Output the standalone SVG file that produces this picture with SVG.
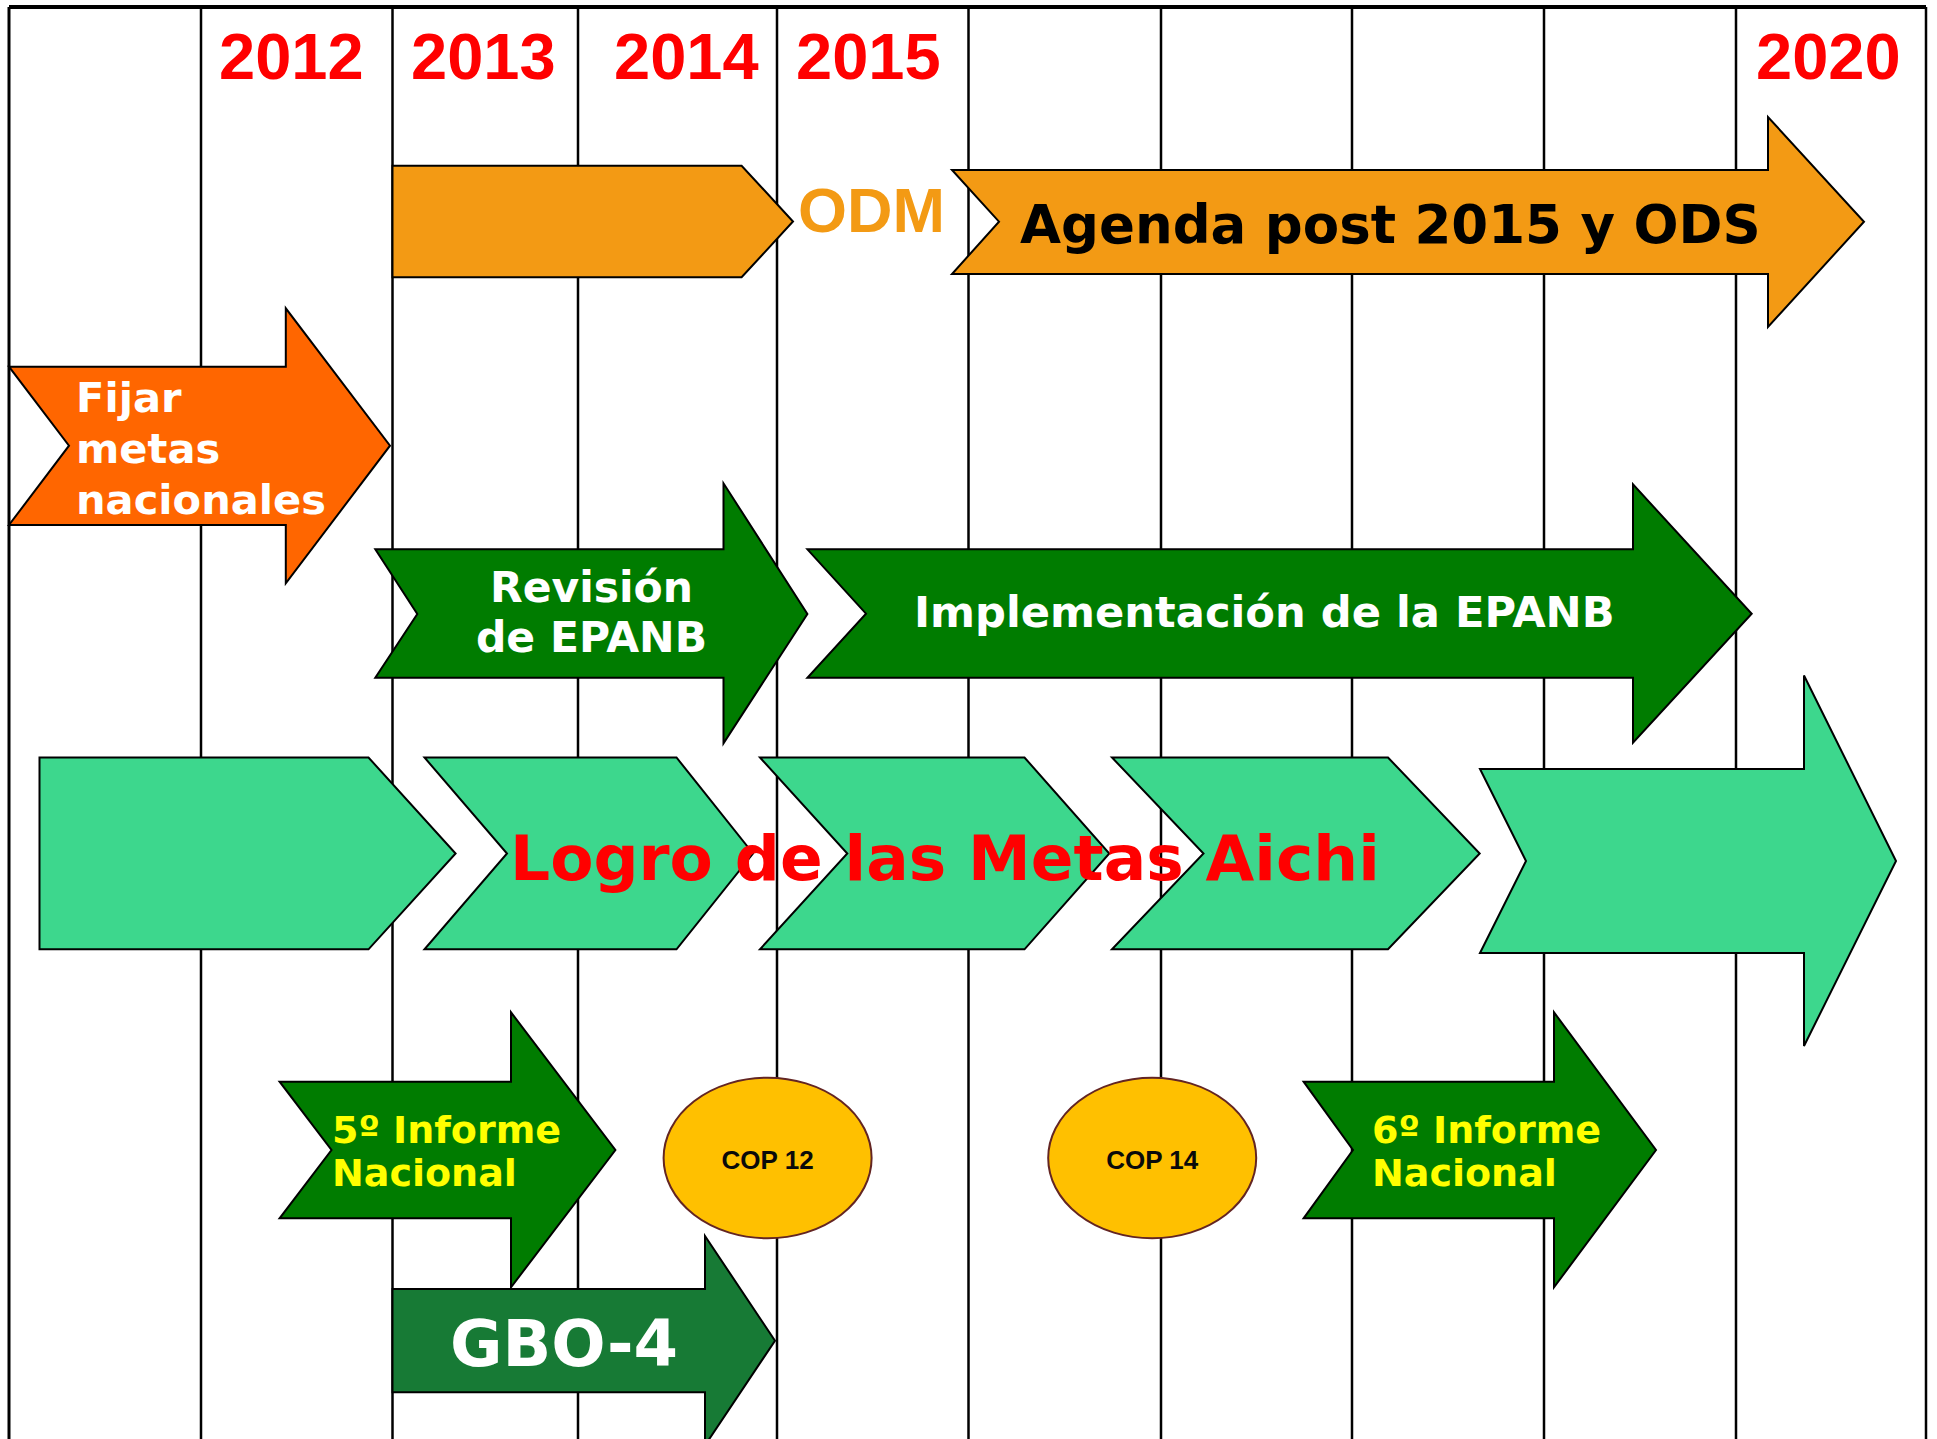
<svg xmlns="http://www.w3.org/2000/svg" width="1937" height="1439" viewBox="0 0 1937 1439">
<style>
.grid{stroke:#000;stroke-width:2.5;fill:none}
.shape{stroke:#000;stroke-width:2;stroke-linejoin:miter}
.year{font-family:"Liberation Sans",Arial,sans-serif;font-weight:bold;font-size:65px;fill:#FF0000}
.vb{font-family:"DejaVu Sans",Verdana,sans-serif;font-weight:bold}
.white{fill:#FFFFFF}
.yellow{fill:#FFFF00}
.cop{font-family:"Liberation Sans",Arial,sans-serif;font-weight:bold;font-size:26px;fill:#0a0a0a;text-anchor:middle}
</style>
<rect x="0" y="0" width="1937" height="1439" fill="#FFFFFF"/>
<g id="grid">
<line class="grid" x1="9" y1="7" x2="1926" y2="7" style="stroke-width:4"/>
<line class="grid" x1="9" y1="7" x2="9" y2="1439" style="stroke-width:3"/>
<line class="grid" x1="201" y1="7" x2="201" y2="1439"/>
<line class="grid" x1="392.5" y1="7" x2="392.5" y2="1439"/>
<line class="grid" x1="578" y1="7" x2="578" y2="1439"/>
<line class="grid" x1="777" y1="7" x2="777" y2="1439"/>
<line class="grid" x1="968.5" y1="7" x2="968.5" y2="1439"/>
<line class="grid" x1="1161" y1="7" x2="1161" y2="1439"/>
<line class="grid" x1="1352" y1="7" x2="1352" y2="1439"/>
<line class="grid" x1="1544" y1="7" x2="1544" y2="1439"/>
<line class="grid" x1="1736" y1="7" x2="1736" y2="1439"/>
<line class="grid" x1="1926" y1="7" x2="1926" y2="1439"/>
</g>
<g id="years">
<text class="year" x="219" y="79">2012</text>
<text class="year" x="411" y="79">2013</text>
<text class="year" x="614" y="79">2014</text>
<text class="year" x="796" y="79">2015</text>
<text class="year" x="1756" y="79">2020</text>
</g>
<g id="odm">
<polygon class="shape" fill="#F39A14" points="392.5,165.7 741.6,165.7 793,221.5 741.6,277.3 392.5,277.3"/>
<text x="798" y="232" style="font-family:'Liberation Sans',Arial,sans-serif;font-weight:bold;font-size:63px;fill:#F39A14">ODM</text>
</g>
<g id="agenda">
<polygon class="shape" fill="#F39A14" points="952,170 1768,170 1768,117 1864,221.7 1768,327 1768,274 952,274 999,221.7"/>
<text class="vb" x="1020" y="242.7" style="font-size:53px;fill:#000000">Agenda post 2015 y ODS</text>
</g>
<g id="fijar">
<polygon class="shape" fill="#FF6600" points="9,366.7 285.8,366.7 285.8,308.3 390,445.7 285.8,583.3 285.8,525 9,525 69,445.7"/>
<text class="vb white" style="font-size:41.6px"><tspan x="76" y="412">Fijar</tspan><tspan x="76" y="463">metas</tspan><tspan x="76" y="513.5">nacionales</tspan></text>
</g>
<g id="revision">
<polygon class="shape" fill="#007C00" points="375.3,549.3 723.5,549.3 723.5,483.3 807.4,614 723.5,743.3 723.5,677.7 375.3,677.7 417.3,614"/>
<text class="vb white" style="font-size:42.5px;text-anchor:middle"><tspan x="591.5" y="601.7">Revisión</tspan><tspan x="591.5" y="651.7">de EPANB</tspan></text>
</g>
<g id="implementacion">
<polygon class="shape" fill="#007C00" points="807.4,549.3 1633,549.3 1633,484.4 1751.7,613.7 1633,742.7 1633,677.7 807.4,677.7 866,613.7"/>
<text class="vb white" x="914" y="627" style="font-size:43.2px">Implementación de la EPANB</text>
</g>
<g id="aichi">
<polygon class="shape" fill="#3DD78D" points="39.5,757.5 368.5,757.5 455.6,853.5 368.5,949.3 39.5,949.3"/>
<polygon class="shape" fill="#3DD78D" points="424.5,757.5 676.5,757.5 753,853.5 676.5,949.3 424.5,949.3 507,853.5"/>
<polygon class="shape" fill="#3DD78D" points="760,757.5 1024.5,757.5 1109.3,853.5 1024.5,949.3 760,949.3 847.3,853.5"/>
<polygon class="shape" fill="#3DD78D" points="1112,757.5 1388,757.5 1479.7,853.5 1388,949.3 1112,949.3 1203.5,853.5"/>
<polygon class="shape" fill="#3DD78D" points="1480,769 1804,769 1804,675.5 1896,861 1804,1046 1804,953 1480,953 1526,861"/>
<text class="vb" x="510" y="880" style="font-size:63px;fill:#FF0000">Logro de las Metas Aichi</text>
</g>
<g id="informe5">
<polygon class="shape" fill="#007C00" points="279.6,1081.7 511,1081.7 511,1012.3 615.4,1150 511,1287.3 511,1218.3 279.6,1218.3 331.5,1150"/>
<text class="vb yellow" style="font-size:38px"><tspan x="332" y="1142.7">5º Informe</tspan><tspan x="332" y="1186">Nacional</tspan></text>
</g>
<g id="cop12">
<ellipse cx="767.6" cy="1158" rx="104" ry="80.3" fill="#FFC000" stroke="#632523" stroke-width="2"/>
<text class="cop" x="767.6" y="1169">COP 12</text>
</g>
<g id="cop14">
<ellipse cx="1152.2" cy="1158" rx="104" ry="80.3" fill="#FFC000" stroke="#632523" stroke-width="2"/>
<text class="cop" x="1152.2" y="1169">COP 14</text>
</g>
<g id="informe6">
<polygon class="shape" fill="#007C00" points="1303.6,1081.7 1554,1081.7 1554,1012.3 1656,1150 1554,1287.3 1554,1218.3 1303.6,1218.3 1353,1150"/>
<text class="vb yellow" style="font-size:38px"><tspan x="1372" y="1142.7">6º Informe</tspan><tspan x="1372" y="1186">Nacional</tspan></text>
</g>
<g id="gbo4">
<polygon class="shape" fill="#177A35" points="392.5,1289 705,1289 705,1236 775,1340.7 705,1445.4 705,1392.3 392.5,1392.3"/>
<text class="vb white" x="450" y="1366" style="font-size:64px">GBO-4</text>
</g>
<g id="connectors"/>
</svg>
